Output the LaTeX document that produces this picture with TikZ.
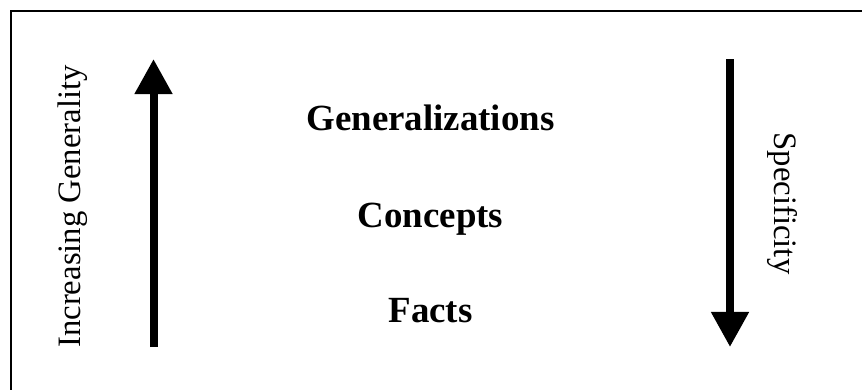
\documentclass[tikz,border=0pt]{standalone}
\usepackage{fontspec}
\setmainfont{Liberation Serif}
\usetikzlibrary{arrows.meta}
\usetikzlibrary{calc}
\tikzset{
  bigarrow/.style={line width=0.267cm, -{Triangle[width=1.2cm,length=1.17cm]}},
  sidelabel/.style={inner sep=0pt, font=\fontsize{31}{36}\selectfont},
  levellabel/.style={inner sep=0pt, font=\fontsize{35}{40}\selectfont\bfseries},
}

\begin{document}
\begin{tikzpicture}
\useasboundingbox (0,0) rectangle (28.733,12.967);
\clip (0,0) rectangle (28.733,12.967);

%%%%%%%%%%%%%%%%%%%%%%%%%%%%%%%%%%%%%%%%%%%%%%%%%%%%%%%%%%%%%% frame
\draw[line width=0.067cm] (0.367,-1) -- (0.367,12.6) -- (30,12.6);

%%%%%%%%%%%%%%%%%%%%%%%%%%%%%%%%%%%%%%%%%%%%%%%%%%%%%%%%%%%%%% left arrow
\coordinate (genlow) at (5.117, 1.4);
\coordinate (genhigh) at (5.117, 11.0);
\draw[bigarrow] (genlow) -- (genhigh);
\node[sidelabel, rotate=90, anchor=base] (genlabel) at (2.667, 6.083) {Increasing Generality};

%%%%%%%%%%%%%%%%%%%%%%%%%%%%%%%%%%%%%%%%%%%%%%%%%%%%%%%%%%%%%% levels
\node[levellabel, anchor=base] (generalizations) at (14.35, 8.633) {Generalizations};
\node[levellabel, anchor=base] (concepts) at (14.35, 5.4) {Concepts};
\node[levellabel, anchor=base] (facts) at (14.35, 2.233) {Facts};

%%%%%%%%%%%%%%%%%%%%%%%%%%%%%%%%%%%%%%%%%%%%%%%%%%%%%%%%%%%%%% right arrow
\coordinate (spechigh) at (24.333, 11.0);
\coordinate (speclow) at (24.333, 1.4);
\draw[bigarrow] (spechigh) -- (speclow);
\node[sidelabel, rotate=-90, anchor=base] (speclabel) at (25.8, 6.183) {Specificity};

\end{tikzpicture}
\end{document}
